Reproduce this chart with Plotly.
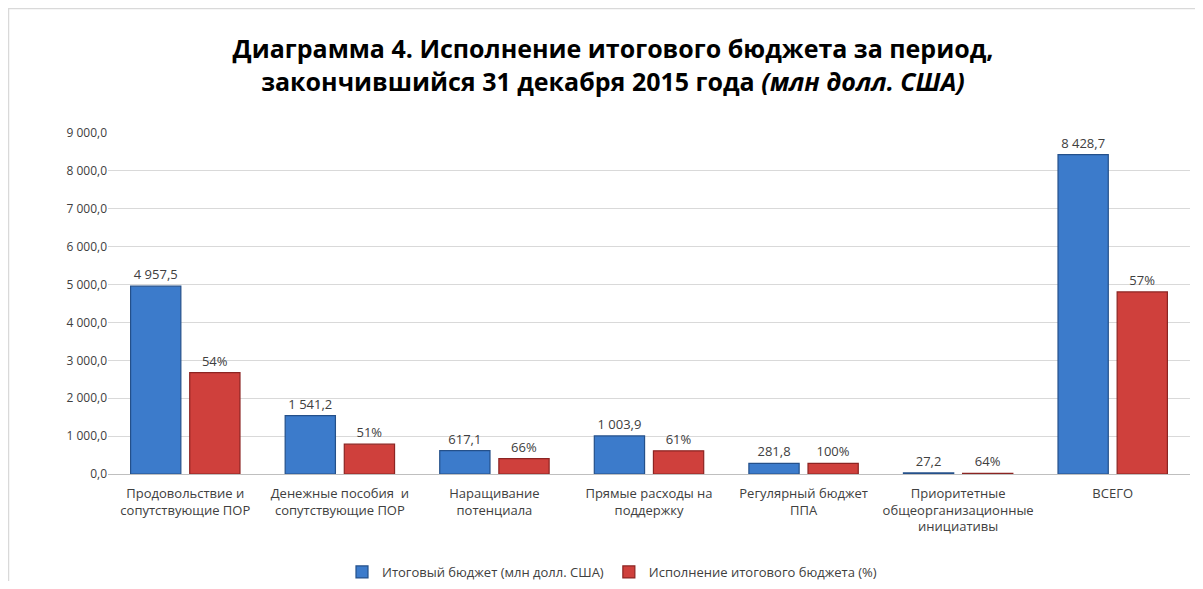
import plotly.graph_objects as go

categories = [
    "Продовольствие и<br>сопутствующие ПОР",
    "Денежные пособия  и<br>сопутствующие ПОР",
    "Наращивание<br>потенциала",
    "Прямые расходы на<br>поддержку",
    "Регулярный бюджет<br>ППА",
    "Приоритетные<br>общеорганизационные<br>инициативы",
    "ВСЕГО",
]
budget = [4957.5, 1541.2, 617.1, 1003.9, 281.8, 27.2, 8428.7]
execution_pct = [54, 51, 66, 61, 100, 64, 57]
series_names = ["Итоговый бюджет (млн долл. США)", "Исполнение итогового бюджета (%)"]

executed = [b * p / 100 for b, p in zip(budget, execution_pct)]
pct_text = [f"{p}%" for p in execution_pct]

OFF = 8  # page body margin
W, H = 1203 - 2 * OFF, 589 - 2 * OFF
L = 108 - OFF
R = W - (1190 - OFF)
T = 133 - OFF
B = H - (474 - OFF)
pw, ph = W - L - R, H - T - B

def px_x(page_px):
    return (page_px - OFF - L) / pw

def px_y(page_py):
    return (H - B - (page_py - OFF)) / ph

FONT = "Open Sans, Liberation Sans, sans-serif"
label_font = dict(family=FONT, size=13, color="#404040")

fig = go.Figure()
fig.add_trace(go.Bar(
    name=series_names[0], x=categories, y=budget,
    marker=dict(color="#3C7BCB", line=dict(color="#24508A", width=1.2)),
    texttemplate="%{y:,.1f}", textposition="outside", textfont=label_font,
    cliponaxis=False,
))
fig.add_trace(go.Bar(
    name=series_names[1], x=categories, y=executed,
    marker=dict(color="#CF403C", line=dict(color="#8C2422", width=1.2)),
    text=pct_text, texttemplate="%{text}", textposition="outside", textfont=label_font,
    cliponaxis=False,
))

fig.update_layout(
    width=W, height=H,
    margin=dict(l=L, r=R, t=T, b=B, autoexpand=False),
    paper_bgcolor="white", plot_bgcolor="white",
    separators=", ",
    barmode="group", bargap=0.235, bargroupgap=0.15,
    font=dict(family=FONT, size=12, color="#404040"),
    title=dict(
        text="<b>Диаграмма 4. Исполнение итогового бюджета за период,<br>закончившийся 31 декабря 2015 года <i>(млн долл. США)</i></b>",
        x=(613 - OFF) / W, xanchor="center", xref="container",
        y=1 - (58 - OFF) / H, yanchor="middle", yref="container",
        font=dict(family=FONT, size=25, color="#000000"),
    ),
    xaxis=dict(
        showgrid=False, showline=True, linecolor="#BFBFBF", linewidth=1,
        ticks="", tickfont=dict(family=FONT, size=13, color="#404040"),
        ticklabelstandoff=7,
        automargin=False,
    ),
    yaxis=dict(
        range=[0, 9000], dtick=1000, tickformat=",.1f",
        showgrid=True, gridcolor="#D9D9D9", gridwidth=1,
        zeroline=False, showline=False, ticks="",
        tickfont=dict(family=FONT, size=12, color="#404040"),
        automargin=False,
    ),
    legend=dict(
        orientation="h", x=px_x(612), xanchor="center",
        y=px_y(572), yanchor="middle",
        font=dict(family=FONT, size=13, color="#404040"),
        itemwidth=30,
    ),
    shapes=[dict(
        type="rect", xref="paper", yref="paper",
        x0=px_x(8.5), x1=px_x(1230), y0=px_y(620), y1=px_y(8.5),
        line=dict(color="#D9D9D9", width=1.5), fillcolor="rgba(0,0,0,0)", layer="below",
    )],
)

fig.write_html("out.html")
